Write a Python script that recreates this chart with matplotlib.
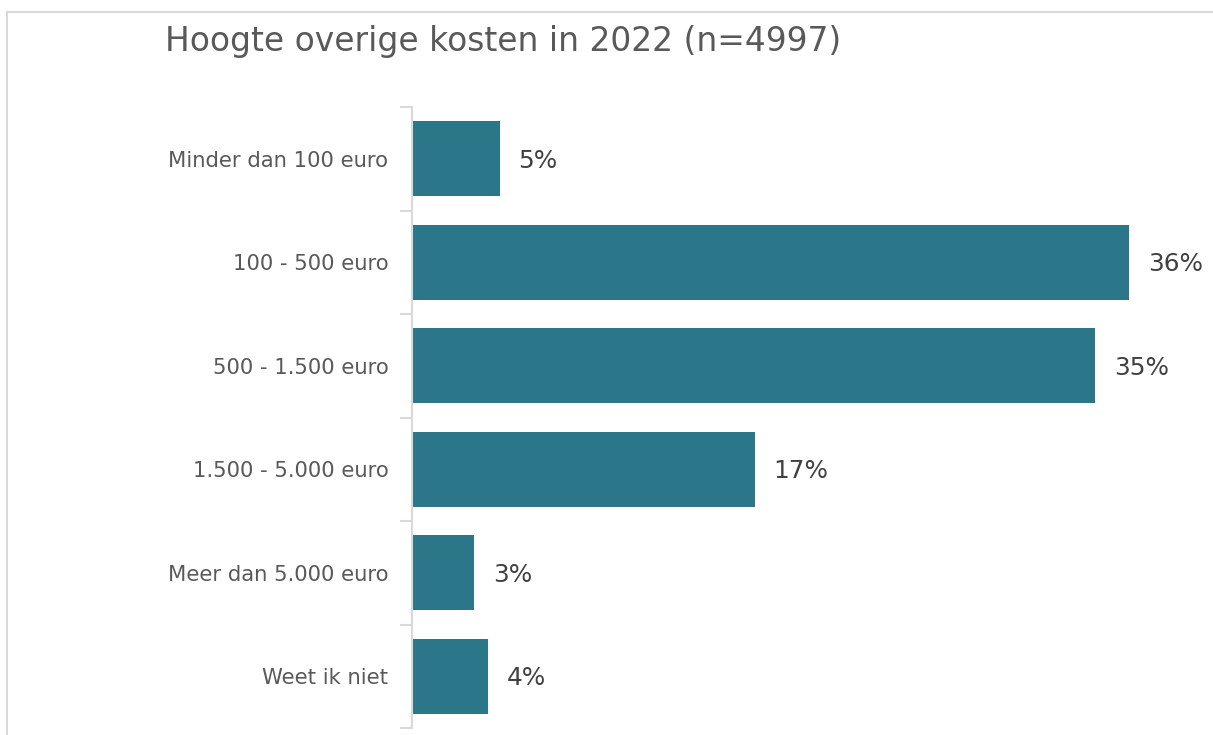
import matplotlib.pyplot as plt
from matplotlib.lines import Line2D
import numpy as np

categories = ["Minder dan 100 euro", "100 - 500 euro", "500 - 1.500 euro",
              "1.500 - 5.000 euro", "Meer dan 5.000 euro", "Weet ik niet"]
values = [4.4, 36.0, 34.3, 17.2, 3.1, 3.8]
labels = ["5%", "36%", "35%", "17%", "3%", "4%"]

fig = plt.figure(figsize=(12.13, 7.35), dpi=100)
ax = fig.add_axes([412 / 1213, 7 / 735, 797 / 1213, 621 / 735])

y = np.arange(len(categories))
ax.barh(y, values, height=0.72, color="#2b7789")
ax.set_ylim(len(categories) - 0.5, -0.5)
ax.set_xlim(0, 40)

for yi, v, lab in zip(y, values, labels):
    ax.text(v + 0.95, yi + 0.02, lab, va="center", ha="left", fontsize=17.8, color="#404040")

ax.set_yticks(y)
ax.set_yticklabels(categories, fontsize=15.2, color="#595959")
ax.tick_params(axis="y", which="major", length=0, pad=17)
ax.set_yticks(np.arange(-0.5, len(categories)), minor=True)
ax.tick_params(axis="y", which="minor", length=9, width=1.5, color="#d9d9d9")
ax.set_xticks([])
for s in ["top", "right", "bottom"]:
    ax.spines[s].set_visible(False)
ax.spines["left"].set_color("#d9d9d9")
ax.spines["left"].set_linewidth(1.5)

fig.text(165 / 1213, 1 - 42 / 735, "Hoogte overige kosten in 2022 (n=4997)",
         fontsize=23.7, color="#595959", va="center", ha="left")

# chart frame (cropped)
fig.add_artist(Line2D([7 / 1213, 1.0], [1 - 12 / 735, 1 - 12 / 735],
                      transform=fig.transFigure, color="#d9d9d9", lw=1.5))
fig.add_artist(Line2D([7 / 1213, 7 / 1213], [0, 1 - 12 / 735],
                      transform=fig.transFigure, color="#d9d9d9", lw=1.5))

fig.savefig("out.png", dpi=100)
